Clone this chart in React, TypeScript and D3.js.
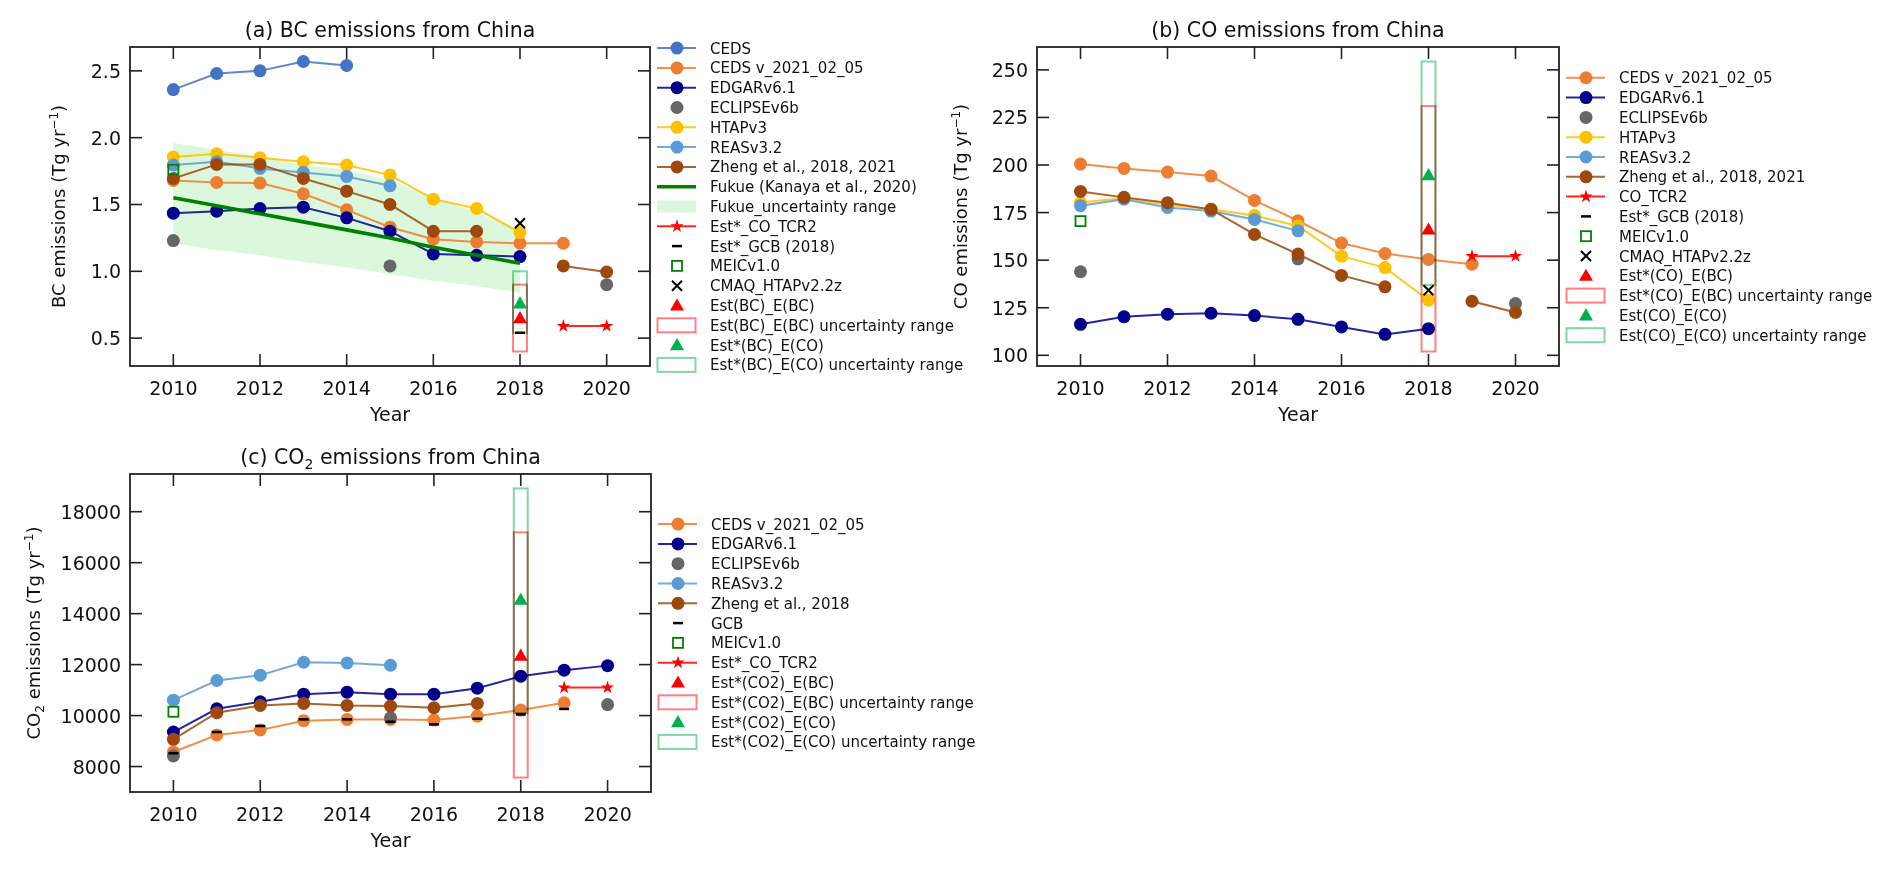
import * as d3 from 'd3'
import type { ReactNode } from 'react'

const W = 1892
const H = 869
const FONT = 'DejaVu Sans, Verdana, sans-serif'

// ---- shared ----
const yearTicks = [2010, 2012, 2014, 2016, 2018, 2020]
const xDomain: [number, number] = [2009, 2021]

// ---- (a) BC, Tg/yr ----
const bcYTicks = [0.5, 1.0, 1.5, 2.0, 2.5]
const bcCeds = [2.36, 2.48, 2.5, 2.57, 2.54] // 2010-2014
const bcCedsV = [1.68, 1.665, 1.66, 1.58, 1.46, 1.33, 1.24, 1.22, 1.21, 1.21] // 2010-2019
const bcEdgar = [1.435, 1.45, 1.47, 1.48, 1.4, 1.3, 1.13, 1.12, 1.11] // 2010-2018
const eclipseYears = [2010, 2015, 2020]
const bcEclipse = [1.23, 1.04, 0.9]
const bcHtap = [1.855, 1.88, 1.85, 1.82, 1.795, 1.72, 1.54, 1.47, 1.29] // 2010-2018
const bcReas = [1.795, 1.82, 1.77, 1.74, 1.71, 1.64] // 2010-2015
const bcZheng = [1.695, 1.8, 1.8, 1.695, 1.6, 1.5, 1.3, 1.3, null, 1.04, 0.995] // 2010-2020
const bcFukue = [1.55, 1.49, 1.43, 1.37, 1.31, 1.25, 1.18, 1.12, 1.06] // 2010-2018
const bcFukueHi = [1.96, 1.91, 1.86, 1.8, 1.76, 1.68, 1.56, 1.44, 1.31]
const bcFukueLo = [1.21, 1.16, 1.12, 1.07, 1.03, 0.98, 0.93, 0.89, 0.84]
const tcrYears = [2019, 2020]
const bcTcr2 = [0.59, 0.59]
const bcGcb = 0.54
const bcMeic = 1.76
const bcCmaq = 1.36
const bcEstBC = 0.65
const bcEstBCRange = [0.4, 0.9]
const bcEstCO = 0.76
const bcEstCORange = [0.54, 1.0]

// ---- (b) CO, Tg/yr ----
const coYTicks = [100, 125, 150, 175, 200, 225, 250]
const coCedsV = [200.5, 198.2, 196.3, 194.2, 181.4, 170.7, 159.0, 153.5, 150.4, 147.9]
const coEdgar = [116.3, 120.2, 121.6, 122.1, 120.9, 118.9, 114.9, 111.0, 114.0]
const coEclipse = [143.9, 150.7, 127.2]
const coHtap = [180.3, 182.6, 179.1, 176.8, 173.5, 168.0, 152.1, 146.1, 129.0]
const coReas = [178.6, 182.0, 177.7, 175.8, 171.4, 165.4]
const coZheng = [186.1, 183.0, 180.2, 176.7, 163.5, 153.2, 142.0, 136.0, null, 128.4, 122.5]
const coTcr2 = [152.1, 152.1]
const coMeic = 170.5
const coCmaq = 134.2
const coEstBC = 166.1
const coEstBCRange = [102, 231]
const coEstCO = 194.7
const coEstCORange = [137, 254.4]

// ---- (c) CO2, Tg/yr ----
const co2YTicks = [8000, 10000, 12000, 14000, 16000, 18000]
const co2CedsV = [8572, 9237, 9433, 9798, 9850, 9850, 9824, 9980, 10215, 10500]
const co2Edgar = [9354, 10267, 10541, 10841, 10919, 10841, 10841, 11076, 11545, 11780, 11960]
const co2Eclipse = [8416, 9915, 10430]
const co2Reas = [10606, 11376, 11584, 12093, 12067, 11975]
const co2Zheng = [9067, 10110, 10397, 10476, 10397, 10372, 10306, 10476]
const co2Gcb = [8520, 9354, 9589, 9850, 9850, 9758, 9654, 9876, 10045, 10260]
const co2Meic = 10150
const co2Tcr2 = [11100, 11100]
const co2EstBC = 12354
const co2EstBCRange = [7568, 17190]
const co2EstCO = 14544
const co2EstCORange = [10100, 18913]

const COL = {
  ceds: '#4472C4',
  cedsV: '#ED7D31',
  edgar: '#00008B',
  eclipse: '#666666',
  htap: '#FFC000',
  reas: '#5B9BD5',
  zheng: '#9E480E',
  fukue: '#008000',
  band: '#DCF8DC',
  red: '#FF0000',
  green: '#00B050',
  redBox: '#FF8080',
  greenBox: '#80D8A0'
}

type Pt = [number, number | null]
const seq = (start: number, vals: (number | null)[]): Pt[] => vals.map((v, i) => [start + i, v])
const at = (years: number[], vals: number[]): Pt[] => vals.map((v, i) => [years[i], v])

type Series =
  | { kind: 'lm' | 'c' | 'fl' | 'sl' | 'dash' | 'sq' | 'x' | 'tri'; label: string; color: string; pts: Pt[] }
  | { kind: 'band'; label: string; color: string; lo: Pt[]; hi: Pt[] }
  | { kind: 'box'; label: string; color: string; year: number; range: number[] }

const bcSeries: Series[] = [
  { kind: 'band', label: 'Fukue_uncertainty range', color: COL.band, lo: seq(2010, bcFukueLo), hi: seq(2010, bcFukueHi) },
  { kind: 'lm', label: 'CEDS', color: COL.ceds, pts: seq(2010, bcCeds) },
  { kind: 'lm', label: 'CEDS v_2021_02_05', color: COL.cedsV, pts: seq(2010, bcCedsV) },
  { kind: 'lm', label: 'EDGARv6.1', color: COL.edgar, pts: seq(2010, bcEdgar) },
  { kind: 'c', label: 'ECLIPSEv6b', color: COL.eclipse, pts: at(eclipseYears, bcEclipse) },
  { kind: 'lm', label: 'HTAPv3', color: COL.htap, pts: seq(2010, bcHtap) },
  { kind: 'lm', label: 'REASv3.2', color: COL.reas, pts: seq(2010, bcReas) },
  { kind: 'lm', label: 'Zheng et al., 2018, 2021', color: COL.zheng, pts: seq(2010, bcZheng) },
  { kind: 'fl', label: 'Fukue (Kanaya et al., 2020)', color: COL.fukue, pts: seq(2010, bcFukue) },
  { kind: 'sl', label: 'Est*_CO_TCR2', color: COL.red, pts: at(tcrYears, bcTcr2) },
  { kind: 'dash', label: 'Est*_GCB (2018)', color: '#000', pts: [[2018, bcGcb]] },
  { kind: 'sq', label: 'MEICv1.0', color: COL.fukue, pts: [[2010, bcMeic]] },
  { kind: 'x', label: 'CMAQ_HTAPv2.2z', color: '#000', pts: [[2018, bcCmaq]] },
  { kind: 'tri', label: 'Est(BC)_E(BC)', color: COL.red, pts: [[2018, bcEstBC]] },
  { kind: 'box', label: 'Est(BC)_E(BC) uncertainty range', color: COL.redBox, year: 2018, range: bcEstBCRange },
  { kind: 'tri', label: 'Est*(BC)_E(CO)', color: COL.green, pts: [[2018, bcEstCO]] },
  { kind: 'box', label: 'Est*(BC)_E(CO) uncertainty range', color: COL.greenBox, year: 2018, range: bcEstCORange }
]
const bcLegendOrder = [1, 2, 3, 4, 5, 6, 7, 8, 0, 9, 10, 11, 12, 13, 14, 15, 16]

const coSeries: Series[] = [
  { kind: 'lm', label: 'CEDS v_2021_02_05', color: COL.cedsV, pts: seq(2010, coCedsV) },
  { kind: 'lm', label: 'EDGARv6.1', color: COL.edgar, pts: seq(2010, coEdgar) },
  { kind: 'c', label: 'ECLIPSEv6b', color: COL.eclipse, pts: at(eclipseYears, coEclipse) },
  { kind: 'lm', label: 'HTAPv3', color: COL.htap, pts: seq(2010, coHtap) },
  { kind: 'lm', label: 'REASv3.2', color: COL.reas, pts: seq(2010, coReas) },
  { kind: 'lm', label: 'Zheng et al., 2018, 2021', color: COL.zheng, pts: seq(2010, coZheng) },
  { kind: 'sl', label: 'CO_TCR2', color: COL.red, pts: at(tcrYears, coTcr2) },
  { kind: 'dash', label: 'Est*_GCB (2018)', color: '#000', pts: [] },
  { kind: 'sq', label: 'MEICv1.0', color: COL.fukue, pts: [[2010, coMeic]] },
  { kind: 'x', label: 'CMAQ_HTAPv2.2z', color: '#000', pts: [[2018, coCmaq]] },
  { kind: 'tri', label: 'Est*(CO)_E(BC)', color: COL.red, pts: [[2018, coEstBC]] },
  { kind: 'box', label: 'Est*(CO)_E(BC) uncertainty range', color: COL.redBox, year: 2018, range: coEstBCRange },
  { kind: 'tri', label: 'Est(CO)_E(CO)', color: COL.green, pts: [[2018, coEstCO]] },
  { kind: 'box', label: 'Est(CO)_E(CO) uncertainty range', color: COL.greenBox, year: 2018, range: coEstCORange }
]

const co2Series: Series[] = [
  { kind: 'lm', label: 'CEDS v_2021_02_05', color: COL.cedsV, pts: seq(2010, co2CedsV) },
  { kind: 'lm', label: 'EDGARv6.1', color: COL.edgar, pts: seq(2010, co2Edgar) },
  { kind: 'c', label: 'ECLIPSEv6b', color: COL.eclipse, pts: at(eclipseYears, co2Eclipse) },
  { kind: 'lm', label: 'REASv3.2', color: COL.reas, pts: seq(2010, co2Reas) },
  { kind: 'lm', label: 'Zheng et al., 2018', color: COL.zheng, pts: seq(2010, co2Zheng) },
  { kind: 'dash', label: 'GCB', color: '#000', pts: seq(2010, co2Gcb) },
  { kind: 'sq', label: 'MEICv1.0', color: COL.fukue, pts: [[2010, co2Meic]] },
  { kind: 'sl', label: 'Est*_CO_TCR2', color: COL.red, pts: at(tcrYears, co2Tcr2) },
  { kind: 'tri', label: 'Est*(CO2)_E(BC)', color: COL.red, pts: [[2018, co2EstBC]] },
  { kind: 'box', label: 'Est*(CO2)_E(BC) uncertainty range', color: COL.redBox, year: 2018, range: co2EstBCRange },
  { kind: 'tri', label: 'Est*(CO2)_E(CO)', color: COL.green, pts: [[2018, co2EstCO]] },
  { kind: 'box', label: 'Est*(CO2)_E(CO) uncertainty range', color: COL.greenBox, year: 2018, range: co2EstCORange }
]

const starPath = d3.symbol(d3.symbolStar, 55)() as string
const triPath = d3.symbol(d3.symbolTriangle, 85)() as string

function Marker({ kind, x, y, color }: { kind: string; x: number; y: number; color: string }) {
  switch (kind) {
    case 'lm':
    case 'c':
      return <circle cx={x} cy={y} r={6.5} fill={color} />
    case 'sl':
      return <path transform={`translate(${x},${y})`} d={starPath} fill={color} />
    case 'tri':
      return <path transform={`translate(${x},${y + 1})`} d={triPath} fill={color} />
    case 'sq':
      return <rect x={x - 5} y={y - 5} width={10} height={10} fill="none" stroke={color} strokeWidth={1.8} />
    case 'x':
      return (
        <path d={`M${x - 5},${y - 5}L${x + 5},${y + 5}M${x - 5},${y + 5}L${x + 5},${y - 5}`}
          stroke="#000" strokeWidth={2} />
      )
    case 'dash':
      return <line x1={x - 5} x2={x + 5} y1={y} y2={y} stroke="#000" strokeWidth={2.5} />
    default:
      return null
  }
}

interface Box { left: number; right: number; top: number; bottom: number }

function paddedExtent(series: Series[]): [number, number] {
  const vals: number[] = []
  series.forEach(s => {
    if (s.kind === 'band') {
      s.lo.forEach(p => p[1] != null && vals.push(p[1]))
      s.hi.forEach(p => p[1] != null && vals.push(p[1]))
    } else if (s.kind === 'box') {
      vals.push(...s.range)
    } else {
      s.pts.forEach(p => p[1] != null && vals.push(p[1]))
    }
  })
  const [lo, hi] = d3.extent(vals) as [number, number]
  const pad = (hi - lo) * 0.05
  return [lo - pad, hi + pad]
}

function Panel({ box, series, legendOrder, yTicks, yFormat, title, ylabel, ylabelOffset }: {
  box: Box
  series: Series[]
  legendOrder?: number[]
  yTicks: number[]
  yFormat: (v: number) => string
  title: ReactNode
  ylabel: ReactNode
  ylabelOffset: number
}) {
  const x = d3.scaleLinear().domain(xDomain).range([box.left, box.right])
  const y = d3.scaleLinear().domain(paddedExtent(series)).range([box.bottom, box.top])
  const line = d3.line<Pt>()
    .defined(d => d[1] != null)
    .x(d => x(d[0]))
    .y(d => y(d[1] as number))
  const tick = 12
  const cx = (box.left + box.right) / 2
  const cy = (box.top + box.bottom) / 2
  const order = legendOrder ?? series.map((_, i) => i)
  const rowH = 19.8
  const lx = box.right + 7

  const bands = series.filter(s => s.kind === 'band')
  const rest = series.filter(s => s.kind !== 'band')

  return (
    <g>
      {bands.map((s, i) => {
        if (s.kind !== 'band') return null
        const area = d3.area<number>()
          .x(j => x(s.lo[j][0]))
          .y0(j => y(s.lo[j][1] as number))
          .y1(j => y(s.hi[j][1] as number))
        return <path key={'b' + i} d={area(d3.range(s.lo.length)) ?? ''} fill={s.color} />
      })}

      {rest.map((s, i) => {
        if (s.kind === 'box') {
          const [lo, hi] = s.range
          return (
            <rect key={i} x={x(s.year - 0.16)} width={x(s.year + 0.16) - x(s.year - 0.16)}
              y={y(hi)} height={y(lo) - y(hi)} fill="none" stroke={s.color} strokeWidth={2}
              style={{ mixBlendMode: 'multiply' }} />
          )
        }
        if (s.kind === 'band') return null
        const showLine = s.kind === 'lm' || s.kind === 'fl' || s.kind === 'sl'
        return (
          <g key={i}>
            {showLine && (
              <path d={line(s.pts) ?? ''} fill="none" stroke={s.color}
                strokeWidth={s.kind === 'fl' ? 3.6 : 2} strokeOpacity={s.kind === 'fl' ? 1 : 0.85} />
            )}
            {s.kind !== 'fl' && s.pts.filter(p => p[1] != null).map((p, j) => (
              <Marker key={j} kind={s.kind} x={x(p[0])} y={y(p[1] as number)} color={s.color} />
            ))}
          </g>
        )
      })}

      {/* frame and inward ticks */}
      <rect x={box.left} y={box.top} width={box.right - box.left} height={box.bottom - box.top}
        fill="none" stroke="#222" strokeWidth={1.8} />
      {yearTicks.map(t => (
        <g key={'xt' + t}>
          <line x1={x(t)} x2={x(t)} y1={box.bottom} y2={box.bottom - tick} stroke="#222" strokeWidth={1.6} />
          <line x1={x(t)} x2={x(t)} y1={box.top} y2={box.top + tick} stroke="#222" strokeWidth={1.6} />
          <text x={x(t)} y={box.bottom + 29} textAnchor="middle" fontSize={19} fill="#111">{t}</text>
        </g>
      ))}
      {yTicks.map(t => (
        <g key={'yt' + t}>
          <line x1={box.left} x2={box.left + tick} y1={y(t)} y2={y(t)} stroke="#222" strokeWidth={1.6} />
          <line x1={box.right} x2={box.right - tick} y1={y(t)} y2={y(t)} stroke="#222" strokeWidth={1.6} />
          <text x={box.left - 9} y={y(t) + 7} textAnchor="end" fontSize={19} fill="#111">{yFormat(t)}</text>
        </g>
      ))}
      <text x={cx} y={box.bottom + 55} textAnchor="middle" fontSize={19} fill="#111">Year</text>
      <text x={cx} y={box.top - 10} textAnchor="middle" fontSize={20.5} fill="#111">{title}</text>
      <text transform={`translate(${box.left - ylabelOffset},${cy}) rotate(-90)`} textAnchor="middle"
        fontSize={18} fill="#111">{ylabel}</text>

      {/* legend */}
      {order.map((si, k) => {
        const s = series[si]
        const ry = cy + (k - (order.length - 1) / 2) * rowH
        let handle: ReactNode = null
        if (s.kind === 'band') {
          handle = <rect x={lx} y={ry - 6} width={39} height={12} fill={s.color} />
        } else if (s.kind === 'box') {
          handle = <rect x={lx + 0.5} y={ry - 7} width={38} height={14} fill="none" stroke={s.color} strokeWidth={2} />
        } else {
          const showLine = s.kind === 'lm' || s.kind === 'fl' || s.kind === 'sl'
          handle = (
            <g>
              {showLine && (
                <line x1={lx} x2={lx + 39} y1={ry} y2={ry} stroke={s.color}
                  strokeWidth={s.kind === 'fl' ? 3.6 : 2} strokeOpacity={s.kind === 'fl' ? 1 : 0.85} />
              )}
              {s.kind !== 'fl' && <Marker kind={s.kind} x={lx + 20} y={ry} color={s.color} />}
            </g>
          )
        }
        return (
          <g key={'lg' + k}>
            {handle}
            <text x={lx + 53} y={ry + 5.5} fontSize={15} fill="#111">{s.label}</text>
          </g>
        )
      })}
    </g>
  )
}

const unit = (
  <>
    {' (Tg yr'}
    <tspan dy={-7} fontSize={12}>−1</tspan>
    <tspan dy={7}>)</tspan>
  </>
)

export default function App() {
  const boxA: Box = { left: 130, right: 650, top: 47, bottom: 366 }
  const boxB: Box = { left: 1037, right: 1559, top: 47, bottom: 366 }
  const boxC: Box = { left: 130, right: 651, top: 474, bottom: 792 }
  return (
    <svg width={W} height={H} fontFamily={FONT}
      style={{ position: 'absolute', left: 0, top: 0, background: '#fff', display: 'block' }}>
      <rect width={W} height={H} fill="#fff" />
      <Panel box={boxA} series={bcSeries} legendOrder={bcLegendOrder} yTicks={bcYTicks}
        yFormat={d3.format('.1f')} title="(a) BC emissions from China"
        ylabel={<>BC emissions{unit}</>} ylabelOffset={65} />
      <Panel box={boxB} series={coSeries} yTicks={coYTicks} yFormat={d3.format('d')}
        title="(b) CO emissions from China" ylabel={<>CO emissions{unit}</>} ylabelOffset={70} />
      <Panel box={boxC} series={co2Series} yTicks={co2YTicks} yFormat={d3.format('d')}
        title={<>(c) CO<tspan dy={5} fontSize={14}>2</tspan><tspan dy={-5}> emissions from China</tspan></>}
        ylabel={<>CO<tspan dy={4} fontSize={12}>2</tspan><tspan dy={-4}> emissions</tspan>{unit}</>}
        ylabelOffset={90} />
    </svg>
  )
}
